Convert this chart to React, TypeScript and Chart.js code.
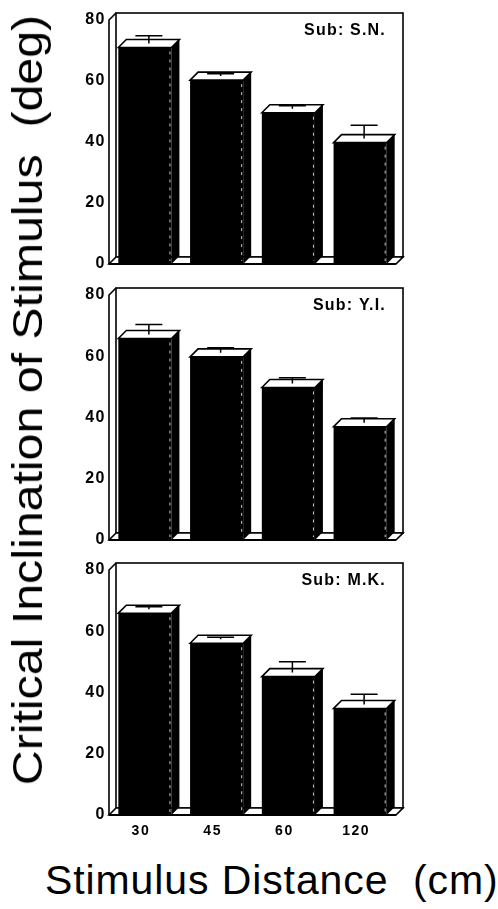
import React, { useEffect, useRef } from "react";
import { Chart, registerables } from "chart.js";

Chart.register(...registerables);

// ---- data ----
const distances = ["30", "45", "60", "120"];
const yTickValues = [0, 20, 40, 60, 80];
const subjects = ["Sub: S.N.", "Sub: Y.I.", "Sub: M.K."];
const meansSN = [71.0, 60.3, 49.6, 39.8];
const errSN = [2.5, 0.8, 1.0, 4.4];
const meansYI = [65.8, 59.8, 49.8, 37.0];
const errYI = [3.3, 1.7, 1.9, 1.5];
const meansMK = [65.9, 56.1, 45.2, 34.8];
const errMK = [0.8, 0.6, 3.5, 3.3];
const yTitle = "Critical Inclination of Stimulus\u00A0\u00A0(deg)";
const xTitle = "Stimulus Distance\u00A0\u00A0(cm)";

const FONT = "'Liberation Sans', Arial, Helvetica, sans-serif";

const panels = [
  { label: subjects[0], means: meansSN, errs: errSN, top: 0, height: 280, padTop: 20, axisH: 16, showX: false },
  { label: subjects[1], means: meansYI, errs: errYI, top: 280, height: 275, padTop: 15, axisH: 15, showX: false },
  { label: subjects[2], means: meansMK, errs: errMK, top: 555, height: 295, padTop: 15, axisH: 35, showX: true },
];

const WALL = 7;
const DEPTH = 8;

const box3d = {
  id: "box3d",
  beforeDraw(chart: any) {
    // wider letter spacing for the tick labels, like the scanned original
    (chart.ctx as any).letterSpacing = "1.5px";
  },
  beforeDatasetsDraw(chart: any) {
    const { ctx, chartArea } = chart;
    const { left, right, top, bottom } = chartArea;
    const d = WALL;
    ctx.save();
    ctx.strokeStyle = "#000";
    ctx.lineJoin = "miter";
    // back wall
    ctx.lineWidth = 1.6;
    ctx.strokeRect(left + d, top - d, right - left, bottom - top);
    // floor
    ctx.fillStyle = "#fff";
    ctx.beginPath();
    ctx.moveTo(left, bottom);
    ctx.lineTo(left + d, bottom - d);
    ctx.lineTo(right + d, bottom - d);
    ctx.lineTo(right, bottom);
    ctx.closePath();
    ctx.fill();
    ctx.stroke();
    ctx.lineWidth = 2.2;
    ctx.beginPath();
    ctx.moveTo(left, bottom);
    ctx.lineTo(right, bottom);
    ctx.stroke();
    // left wall
    ctx.lineWidth = 1.6;
    ctx.beginPath();
    ctx.moveTo(left, bottom);
    ctx.lineTo(left, top);
    ctx.lineTo(left + d, top - d);
    ctx.stroke();
    ctx.restore();
  },
  afterDatasetsDraw(chart: any, _args: any, opts: any) {
    const { ctx, chartArea } = chart;
    const meta = chart.getDatasetMeta(0);
    const yScale = chart.scales.y;
    const D = DEPTH;
    ctx.save();
    meta.data.forEach((el: any, i: number) => {
      const { x, y, base, width } = el.getProps(["x", "y", "base", "width"], true);
      const l = x - width / 2;
      const r = x + width / 2;
      // side face
      ctx.fillStyle = "#000";
      ctx.beginPath();
      ctx.moveTo(r, y);
      ctx.lineTo(r + D, y - D);
      ctx.lineTo(r + D, base - D);
      ctx.lineTo(r, base);
      ctx.closePath();
      ctx.fill();
      // faint white edge lines (scan look)
      ctx.strokeStyle = "rgba(255,255,255,0.8)";
      ctx.lineWidth = 1;
      ctx.setLineDash([3, 5]);
      ctx.beginPath();
      ctx.moveTo(r - 1.5, y + 4);
      ctx.lineTo(r - 1.5, base - 3);
      ctx.stroke();
      ctx.setLineDash([]);
      // top face
      ctx.fillStyle = "#fff";
      ctx.strokeStyle = "#000";
      ctx.lineWidth = 1.6;
      ctx.beginPath();
      ctx.moveTo(l, y);
      ctx.lineTo(l + D, y - D);
      ctx.lineTo(r + D, y - D);
      ctx.lineTo(r, y);
      ctx.closePath();
      ctx.fill();
      ctx.stroke();
      // error bar
      const m = chart.data.datasets[0].data[i];
      const e = opts.errs[i];
      const cx = x + D / 2;
      const ys = y - D / 2;
      const ye = yScale.getPixelForValue(m + e) - D / 2;
      ctx.lineWidth = 1.5;
      ctx.beginPath();
      ctx.moveTo(cx, ys);
      ctx.lineTo(cx, ye);
      ctx.moveTo(cx - 13.5, ye);
      ctx.lineTo(cx + 13.5, ye);
      ctx.stroke();
    });
    // subject label
    ctx.fillStyle = "#000";
    ctx.font = `bold 16px ${FONT}`;
    (ctx as any).letterSpacing = "1.2px";
    ctx.textAlign = "right";
    ctx.textBaseline = "alphabetic";
    ctx.fillText(opts.label, chartArea.right - 10, chartArea.top + 15);
    ctx.restore();
  },
};

function Panel({ p }: { p: (typeof panels)[number] }) {
  const ref = useRef<HTMLCanvasElement>(null);
  useEffect(() => {
    if (!ref.current) return;
    const chart = new Chart(ref.current, {
      type: "bar",
      data: {
        labels: distances,
        datasets: [
          {
            data: p.means,
            backgroundColor: "#000",
            borderWidth: 0,
            barPercentage: 0.74,
            categoryPercentage: 1,
          },
        ],
      },
      options: {
        responsive: false,
        animation: false,
        events: [],
        layout: { padding: { top: p.padTop, left: 0, right: 102, bottom: 0 } },
        plugins: {
          legend: { display: false },
          tooltip: { enabled: false },
          box3d: { errs: p.errs, label: p.label },
        } as any,
        scales: {
          x: {
            type: "category",
            grid: { display: false, drawTicks: false },
            border: { display: false },
            ticks: {
              display: p.showX,
              color: "#000",
              font: { family: FONT, size: 14, weight: "bold" },
              padding: 8,
              labelOffset: -4,
            },
            afterFit: (s: any) => {
              s.height = p.axisH;
            },
          },
          y: {
            min: 0,
            max: 80,
            grid: { display: false, drawTicks: false },
            border: { display: false },
            afterBuildTicks: (s: any) => {
              s.ticks = yTickValues.map((v) => ({ value: v }));
            },
            ticks: {
              color: "#000",
              font: { family: FONT, size: 16, weight: "bold" },
              padding: 3,
            },
            afterFit: (s: any) => {
              s.width = 109;
            },
          },
        },
      },
      plugins: [box3d],
    });
    return () => chart.destroy();
  }, [p]);
  return (
    <canvas
      ref={ref}
      width={498}
      height={p.height}
      style={{ position: "absolute", left: 0, top: p.top, width: 498, height: p.height }}
    />
  );
}

export default function App() {
  return (
    <div
      style={{
        position: "absolute",
        left: 0,
        top: 0,
        width: 498,
        height: 909,
        overflow: "hidden",
        background: "#fff",
      }}
    >
      {panels.map((p, i) => (
        <Panel key={i} p={p} />
      ))}
      <div
        style={{
          position: "absolute",
          left: 28,
          top: 400,
          transform: "translate(-50%, -50%) rotate(-90deg) scaleX(1.15)",
          whiteSpace: "nowrap",
          fontFamily: FONT,
          fontSize: 42,
          lineHeight: 1,
          color: "#000",
        }}
      >
        {yTitle}
      </div>
      <div
        style={{
          position: "absolute",
          left: 45,
          top: 860,
          whiteSpace: "nowrap",
          fontFamily: FONT,
          fontSize: 41,
          letterSpacing: 0.9,
          lineHeight: 1,
          color: "#000",
        }}
      >
        {xTitle}
      </div>
    </div>
  );
}
